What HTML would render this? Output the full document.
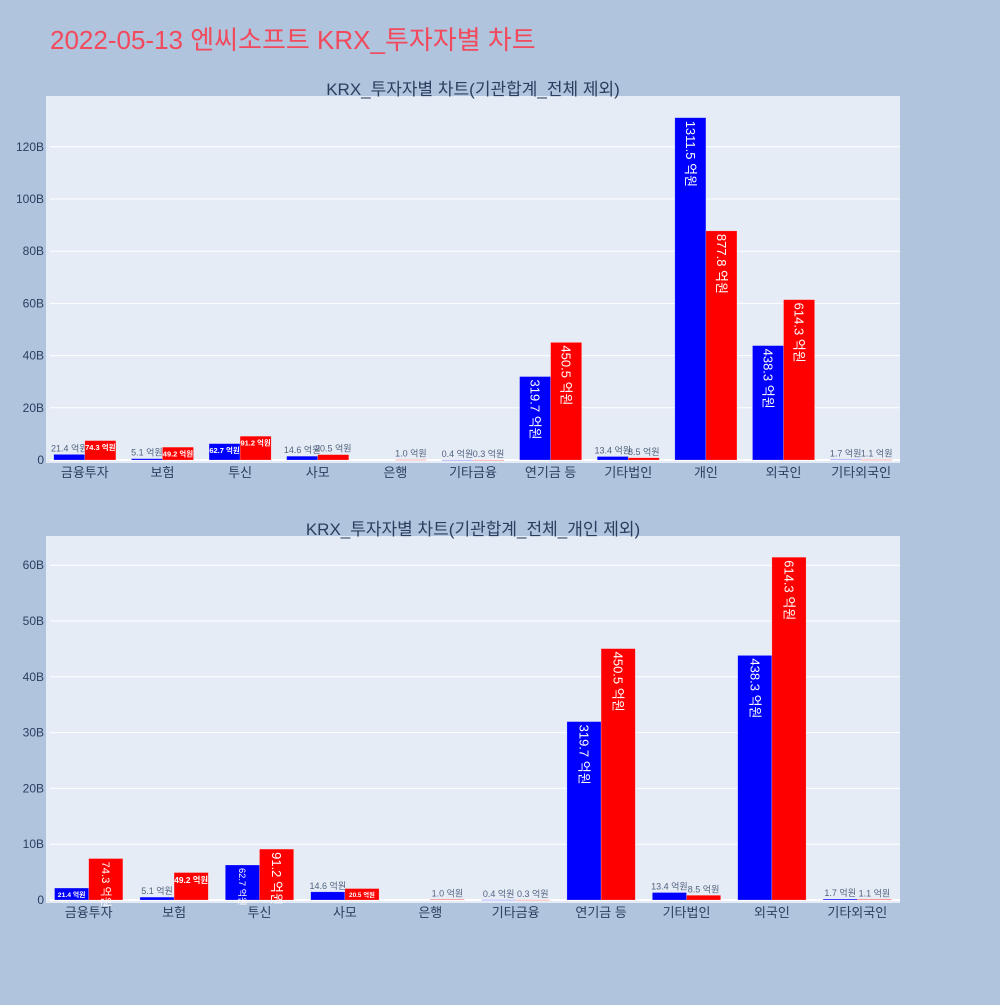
<!DOCTYPE html>
<html><head><meta charset="utf-8"><style>
body{margin:0;background:#b0c4de;}
svg text{font-family:"Liberation Sans","Noto Sans CJK KR",sans-serif;}
</style></head><body>
<svg id="s" width="1000" height="1000" xmlns="http://www.w3.org/2000/svg">
<rect width="1000" height="1000" fill="#b0c4de"/>
<text x="50" y="49" font-size="26" fill="#f2495c">2022-05-13 엔씨소프트 KRX_투자자별 차트</text>
</svg>
<script>
const categories1=["금융투자","보험","투신","사모","은행","기타금융","연기금 등","기타법인","개인","외국인","기타외국인"];
const sell1=[21.4,5.1,62.7,14.6,0,0.4,319.7,13.4,1311.5,438.3,1.7];
const buy1=[74.3,49.2,91.2,20.5,1.0,0.3,450.5,8.5,877.8,614.3,1.1];
const ticks1=[0,20,40,60,80,100,120];
const categories2=["금융투자","보험","투신","사모","은행","기타금융","연기금 등","기타법인","외국인","기타외국인"];
const sell2=[21.4,5.1,62.7,14.6,0,0.4,319.7,13.4,438.3,1.7];
const buy2=[74.3,49.2,91.2,20.5,1.0,0.3,450.5,8.5,614.3,1.1];
const ticks2=[0,10,20,30,40,50,60];
const NS="http://www.w3.org/2000/svg";
const svg=document.getElementById('s');
function mk(tag,attrs,parent){const e=document.createElementNS(NS,tag);for(const k in attrs)e.setAttribute(k,attrs[k]);(parent||svg).appendChild(e);return e;}
function chart(cfg){
  const g=mk('g',{});
  
  
  const bg=mk('rect',{x:cfg.x0,y:cfg.y0,width:cfg.x1-cfg.x0,height:cfg.y1-cfg.y0,fill:'#e5ecf6'},g);
  
  
  const t=mk('text',{x:(cfg.x0+cfg.x1)/2,y:cfg.y0-1,'font-size':17,fill:'#2a3f5f','text-anchor':'middle'},g);
  t.textContent=cfg.title;
  
  
  const y=v=>cfg.zy-(v/cfg.unit)*cfg.step; // v in 억원 *? handled below
  const yB=b=>cfg.zy-b/cfg.tickStep*cfg.step; // b in billions
  cfg.ticks.forEach(tk=>{
    const yy=yB(tk);
    const l=mk('line',{x1:cfg.x0+4,x2:cfg.x1,y1:yy,y2:yy,stroke:'#fff','stroke-width':tk===0?2:1},g);
    
    
    const tl=mk('text',{x:cfg.x0-2,y:yy+4,'font-size':12,fill:'#2a3f5f','text-anchor':'end'},g);
    tl.textContent=tk===0?'0':tk+'B';
    
    
  });
  const n=cfg.cats.length, cw=(cfg.x1-cfg.x0)/n, bw=cw*0.4;
  cfg.cats.forEach((c,i)=>{
    const cx=cfg.x0+cw*(i+0.5);
    const xl=mk('text',{x:cx,y:cfg.y1+14,'font-size':13,fill:'#2a3f5f','text-anchor':'middle'},g);
    xl.textContent=c;
    
    
    [[cfg.s1[i],'#0000ff',cx-bw],[cfg.s2[i],'#ff0000',cx]].forEach(([v,col,bx])=>{
      const b=v/10; // 억원 -> billions
      const top=yB(b), bh=cfg.zy-top;
      if(v>0){
        const r=mk('rect',{x:bx,y:top,width:bw,height:Math.max(bh,0.5),fill:col,stroke:'rgba(255,255,255,0.4)','stroke-width':0.5},g);
        
        
      }
      if(v===0)return;
      const lab=v.toFixed(1)+' 억원';
      const L=lab.length*6.2;
      const sh=Math.min(1,(bw-4)/L,(bh-4)/14), sr=Math.min(1,(bh-4)/L,(bw-4)/14);
      let tx;
      if(bh<10){
        tx=mk('text',{x:bx+bw/2,y:top-3,'font-size':9,fill:'#2a3f5f','text-anchor':'middle','fill-opacity':0.8},g);
      } else if(sr>sh){
        const fs=13*sr;
        tx=mk('text',{x:0,y:0,'font-size':fs,fill:'#fff','text-anchor':'start',transform:`translate(${bx+bw/2-fs*0.35},${top+3}) rotate(90)`},g);
      } else {
        const fs=Math.max(5,12*sh);
        tx=mk('text',{x:bx+bw/2,y:top+fs+2,'font-size':fs,fill:'#fff','text-anchor':'middle','font-weight':'bold'},g);
      }
      tx.textContent=lab;
      
      
    });
  });
}
chart({name:'chart-top',title:'KRX_투자자별 차트(기관합계_전체 제외)',x0:46,x1:900,y0:96,y1:463,zy:460,step:52.2,tickStep:20,ticks:ticks1,cats:categories1,s1:sell1,s2:buy1});
chart({name:'chart-bottom',title:'KRX_투자자별 차트(기관합계_전체_개인 제외)',x0:46,x1:900,y0:536,y1:903,zy:900,step:55.8,tickStep:10,ticks:ticks2,cats:categories2,s1:sell2,s2:buy2});
</script>
</body></html>
